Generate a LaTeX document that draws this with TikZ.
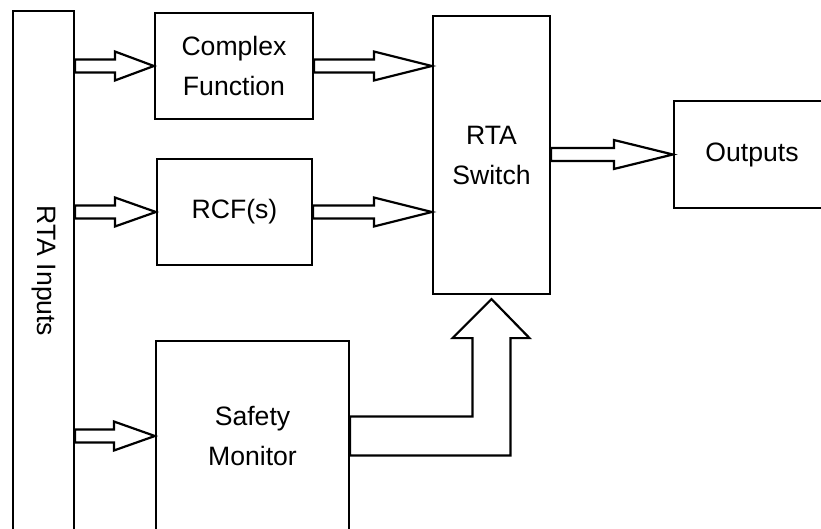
\documentclass[tikz,border=0pt]{standalone}
\usepackage{fontspec}
\setmainfont{Liberation Sans}
\usetikzlibrary{calc}
\tikzset{
  box/.style={draw, line width=2.2pt, rectangle, inner sep=0pt, align=center,
    font=\fontsize{26.6}{40}\selectfont},
  lbl/.style={inner sep=0pt, align=center, font=\fontsize{26.6}{40}\selectfont},
  blk/.style={draw, fill=white, line width=2.2pt, line join=miter},
}
\newcommand\barrow[3]{%
  \draw[blk] let \p1=#1, \p2=#2 in
    (\x1,\y1+6.5pt) -- (\x2-#3,\y1+6.5pt) -- (\x2-#3,\y1+14.5pt) -- (\x2,\y1)
    -- (\x2-#3,\y1-14.5pt) -- (\x2-#3,\y1-6.5pt) -- (\x1,\y1-6.5pt) -- cycle;}
\begin{document}
\begin{tikzpicture}[x=1pt,y=-1pt]
\useasboundingbox (0,0) rectangle (821,529);
\clip (0,0) rectangle (821,529);
\fill[white] (0,0) rectangle (821,529);
% boxes
\node[box, minimum width=61pt, minimum height=520pt] (in) at (43.5,271) {};
\node[lbl, rotate=-90] (intext) at (in.center) {RTA Inputs};
\node[box, minimum width=158pt, minimum height=106pt] (cf) at (234,66) {Complex\\Function};
\node[box, minimum width=155pt, minimum height=106pt] (rcf) at (234.5,212) {RCF(s)};
\node[box, minimum width=193pt, minimum height=190pt] (sm) at (252.5,436) {Safety\\Monitor};
\node[box, minimum width=117pt, minimum height=278pt] (sw) at (491.5,155) {RTA\\Switch};
\node[box, minimum width=156pt, minimum height=107pt] (out) at (752,154.5) {Outputs};
% block arrows
\barrow{(in.east |- cf.west)}{(cf.west)}{39pt}
\barrow{(in.east |- rcf.west)}{(rcf.west)}{41pt}
\barrow{(in.east |- sm.west)}{(sm.west)}{41pt}
\barrow{(cf.east)}{(sw.west |- cf.east)}{58pt}
\barrow{(rcf.east)}{(sw.west |- rcf.east)}{58pt}
\barrow{(sw.east |- out.west)}{(out.west)}{59pt}
% L-shaped block arrow from safety monitor to switch
\draw[blk] let \p1=(sm.east), \p2=(sw.south) in
  (\x1,\y1+19.5pt) -- (\x2-19pt,\y1+19.5pt) -- (\x2-19pt,\y2-43pt)
  -- (\x2-39pt,\y2-43pt) -- (\x2,\y2-4pt) -- (\x2+38pt,\y2-43pt)
  -- (\x2+19pt,\y2-43pt) -- (\x2+19pt,\y1-19.5pt) -- (\x1,\y1-19.5pt) -- cycle;
\end{tikzpicture}
\end{document}
